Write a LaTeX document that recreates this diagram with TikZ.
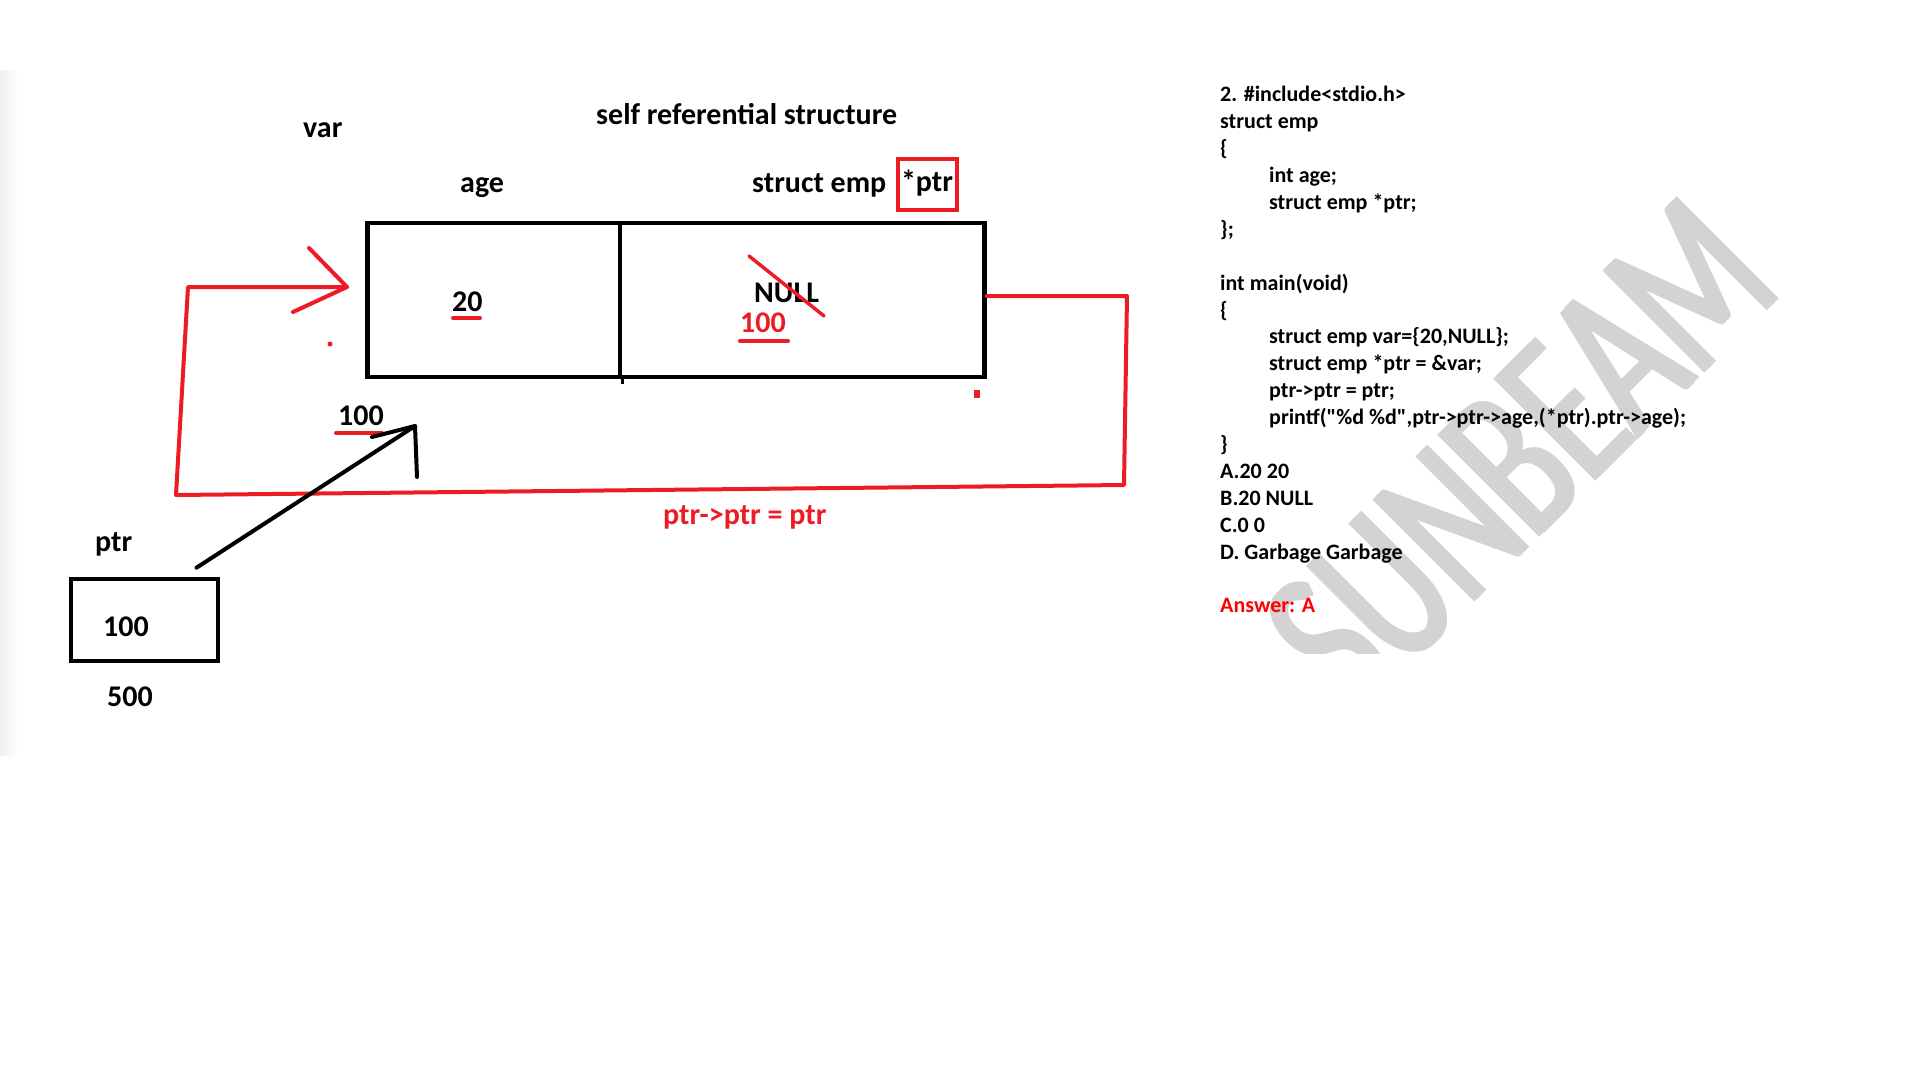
\documentclass[tikz,border=0pt]{standalone}
\usepackage{fontspec}
\setmainfont{Carlito}
\newfontfamily\codefont{Carlito}[Ligatures=TeXOff]
\usepackage{tikz}
\definecolor{penRed}{HTML}{ED1C24}
\definecolor{answerRed}{HTML}{FF0000}
\definecolor{stampGray}{HTML}{D3D3D3}
\definecolor{edgeGray}{HTML}{EFEFEF}
\newcommand{\lblfont}{\bfseries\fontsize{30}{36}\selectfont}

\begin{document}
\begin{tikzpicture}[x=1pt,y=-1pt,
  lbl/.style={font=\lblfont,inner sep=0,anchor=base west},
  cell/.style={draw,line width=4.5pt,inner sep=0},
  redpen/.style={penRed,line width=4pt,line cap=round,line join=round},
  blackpen/.style={black,line width=4pt,line cap=round,line join=round}]
\useasboundingbox (0,0) rectangle (1920,1080);
\shade[left color=edgeGray,right color=white] (0,70) rectangle (18,755);
\begin{scope}
\clip (1200,60) rectangle (1920,653);
\node[inner sep=0,text=stampGray] (stamp) at (1520,455)
  {\rotatebox{45}{\scalebox{0.64}[1]{\fontsize{225}{225}\selectfont\rlap{SUNBEAM}\hspace{9pt}SUNBEAM}}};
\end{scope}

\node[lbl] (varlbl) at (303,137) {var};
\node[lbl] (title) at (596,124) {self referential structure};
\node[lbl] (agelbl) at (460,192) {age};
\node[lbl] (typelbl) at (752,192) {struct emp};
\node[draw=penRed,line width=4pt,minimum width=59pt,minimum height=51pt,inner sep=0,
  text height=20pt,text depth=5pt,font=\lblfont] (ptrfield) at (927,184) {*ptr};

\node[cell,minimum width=252.4pt,minimum height=153.6pt] (agecell) at (493.8,300) {};
\node[cell,minimum width=364.4pt,minimum height=153.6pt] (ptrcell) at (802.2,300) {};
\draw[line width=3.5pt] (agecell.south east) -- ++(0,5);

\node[lbl] (agev) at (452,311) {20};
\draw[redpen] (453,318) -- (480,318);
\node[lbl] (nullv) at (754,302) {NULL};
\draw[redpen,line width=3.5pt] (749,256) -- (824,316);
\node[lbl,text=penRed] (newv) at (740,332) {100};
\draw[redpen] (740,341) -- (788,341);
\fill[penRed] (330,344) circle (2.5);
\fill[penRed] (974,390) rectangle (980,398);

\coordinate (loopA) at (1127,296);
\coordinate (loopB) at (1124,485);
\coordinate (loopC) at (176,495);
\coordinate (loopD) at (188,287);
\coordinate (tipA) at (347,287);
\coordinate (barbA1) at (309,248);
\coordinate (barbA2) at (293,312);
\draw[redpen] (ptrcell.east |- loopA) -- (loopA) -- (loopB) -- (loopC) -- (loopD) -- (tipA);
\draw[redpen] (barbA1) -- (tipA) -- (barbA2);

\node[lbl] (addr) at (338,425) {100};
\draw[redpen] (336,433) -- (382,433);
\node[lbl,text=penRed] (assign) at (663,524) {ptr->ptr = ptr};

\node[lbl] (ptrlbl) at (95,551) {ptr};
\node[cell,line width=4pt,minimum width=147pt,minimum height=82.6pt] (ptrbox) at (144.5,620) {};
\node[lbl] (ptrval) at (103,636) {100};
\node[lbl] (ptraddr) at (107,706) {500};

\coordinate (tipB) at (415,426);
\coordinate (barbB1) at (372,437);
\coordinate (barbB2) at (417,477);
\draw[blackpen] ([xshift=52pt,yshift=9pt]ptrbox.north) -- (tipB);
\draw[blackpen] (barbB1) -- (tipB) -- (barbB2);

\node[anchor=north west,inner sep=0,align=left,font=\codefont\bfseries\fontsize{22}{26.9}\selectfont] (code) at (1220,81.6)
{\rule{0pt}{20pt}2. \#include<stdio.h>\\
struct emp\\
\{\\
\hspace*{49pt}int age;\\
\hspace*{49pt}struct emp *ptr;\\
\};\\
\mbox{}\\
int main(void)\\
\{\\
\hspace*{49pt}struct emp var=\{20,NULL\};\\
\hspace*{49pt}struct emp *ptr = \&var;\\
\hspace*{49pt}ptr->ptr = ptr;\\
\hspace*{49pt}printf("\%d \%d",ptr->ptr->age,(*ptr).ptr->age);\\
\}\\
A.20 20\\
B.20 NULL\\
C.0 0\\
D. Garbage Garbage\\
\mbox{}\\
{\color{answerRed}Answer: A}};
\end{tikzpicture}
\end{document}
